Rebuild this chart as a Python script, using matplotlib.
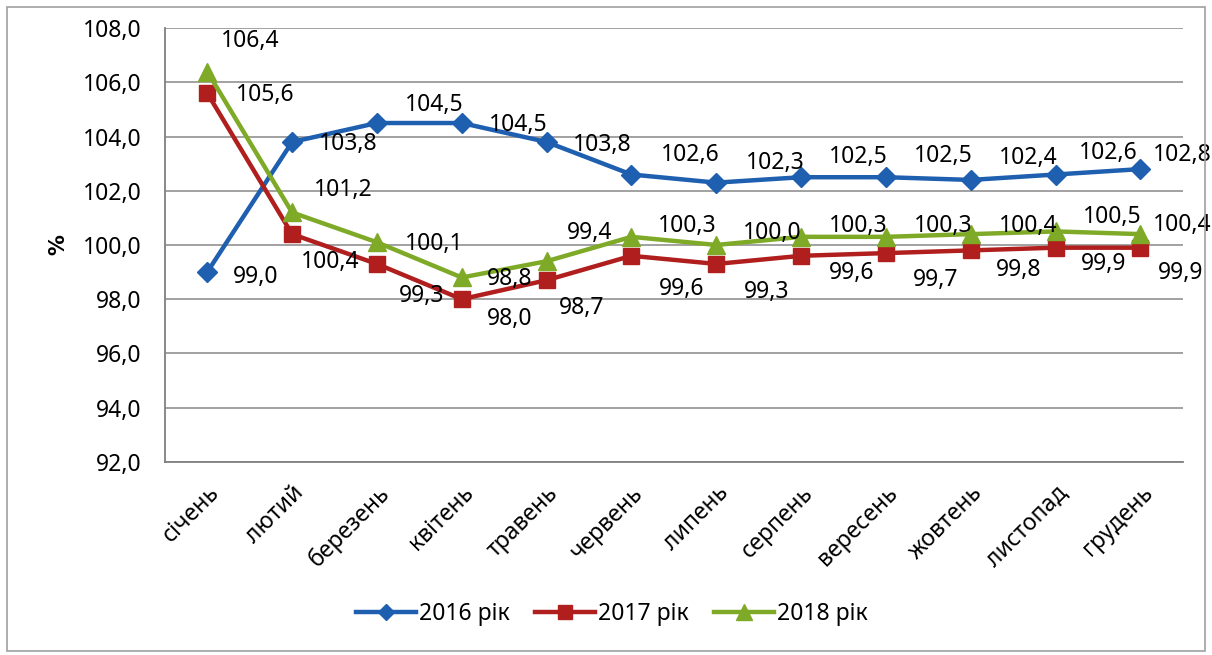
import matplotlib.pyplot as plt
from matplotlib.patches import Rectangle

plt.rcParams['font.family'] = ['Noto Sans', 'DejaVu Sans']

months = ['січень', 'лютий', 'березень', 'квітень', 'травень', 'червень',
          'липень', 'серпень', 'вересень', 'жовтень', 'листопад', 'грудень']
y2016 = [99.0, 103.8, 104.5, 104.5, 103.8, 102.6, 102.3, 102.5, 102.5, 102.4, 102.6, 102.8]
y2017 = [105.6, 100.4, 99.3, 98.0, 98.7, 99.6, 99.3, 99.6, 99.7, 99.8, 99.9, 99.9]
y2018 = [106.4, 101.2, 100.1, 98.8, 99.4, 100.3, 100.0, 100.3, 100.3, 100.4, 100.5, 100.4]
series_names = ['2016 рік', '2017 рік', '2018 рік']

# label offsets in pixels (dx, dy up) relative to the marker
off2016 = [(48, -5), (56, -2), (57, 18), (56, -2), (56, -3), (59, 20),
           (59, 20), (57, 20), (57, 21), (57, 22), (53, 22), (42, 14)]
off2017 = [(58, -2), (38, -28), (45, -32), (48, -20), (35, -28), (50, -33),
           (50, -28), (50, -17), (50, -27), (48, -20), (48, -16), (40, -25)]
off2018 = [(43, 31), (51, 22), (57, -2), (48, -2), (43, 28), (56, 11),
           (56, 12), (57, 11), (57, 11), (57, 8), (57, 14), (42, 9)]

colors = ['#1F5FAF', '#B01E1E', '#7FAA28']
markers = ['D', 's', '^']
msizes = [10, 12, 13]
fs = 16.5

fig = plt.figure(figsize=(12.12, 6.55), dpi=100)
ax = fig.add_axes([0.136, 0.295, 0.840, 0.662])

x = list(range(len(months)))
for vals, offs, c, m, ms, name in zip([y2016, y2017, y2018], [off2016, off2017, off2018],
                                      colors, markers, msizes, series_names):
    ax.plot(x, vals, color=c, lw=3.2, marker=m, markersize=ms, label=name, zorder=3)
    for xi, v, (dx, dy) in zip(x, vals, offs):
        ax.annotate(f'{v:.1f}'.replace('.', ','), (xi, v), xytext=(dx * 0.72, dy * 0.72),
                    textcoords='offset points', ha='center', va='center',
                    fontsize=fs, color='black', zorder=4)

ax.set_xlim(-0.5, len(months) - 0.5)
ax.set_ylim(92, 108)
ax.set_yticks([92, 94, 96, 98, 100, 102, 104, 106, 108])
ax.set_yticklabels([f'{t:.1f}'.replace('.', ',') for t in ax.get_yticks()], fontsize=fs)
ax.set_xticks(x)
ax.set_xticklabels(months, rotation=45, ha='right', va='top', rotation_mode='anchor', fontsize=fs)
ax.tick_params(length=0)
ax.tick_params(axis='y', pad=17)
ax.tick_params(axis='x', pad=14)
ax.set_ylabel('%', fontsize=15, fontweight='bold', family='DejaVu Sans', labelpad=10)

ax.grid(axis='y', color='#9A9A9A', lw=1.3)
ax.set_axisbelow(True)
for s in ['top', 'right']:
    ax.spines[s].set_visible(False)
for s in ['left', 'bottom']:
    ax.spines[s].set_color('#808080')
    ax.spines[s].set_linewidth(1.3)

fig.legend(loc='center', bbox_to_anchor=(0.505, 0.062), ncol=3, frameon=False,
           fontsize=fs, handlelength=2.6, columnspacing=1.1, handletextpad=0.15,
           markerscale=0.85)

fig.patches.append(Rectangle((0.006, 0.006), 0.988, 0.984, transform=fig.transFigure,
                             fill=False, edgecolor='#A0A0A0', lw=1.2))

fig.savefig('out.png', dpi=100)
